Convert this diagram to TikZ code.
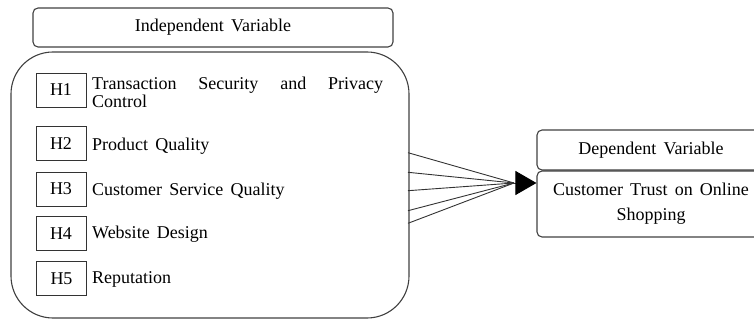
\documentclass[tikz,border=0pt]{standalone}
\usepackage{fontspec}
\setmainfont{Liberation Serif}
\usetikzlibrary{arrows.meta}
\newcommand\widewords{\spaceskip=0.4em plus 0.1em\relax}
\begin{document}
\begin{tikzpicture}[x=1pt,y=-1pt,
  frame/.style={draw=black!75, line width=1.1pt, rounded corners=5pt, inner sep=0pt},
  hbox/.style={draw=black!80, line width=0.9pt, minimum width=50pt, minimum height=34pt, inner sep=0pt},
  label/.style={anchor=west, inner sep=0pt, align=left},
  link/.style={draw=black!80, line width=0.9pt},
  txt/.style={font=\fontsize{18}{18}\selectfont\widewords}
]
\clip (0,0) rectangle (754,320);

% independent side
\node[frame, minimum width=360pt, minimum height=39pt, txt] (iv) at (213,27.5) {Independent Variable};
\node[frame, rounded corners=42pt, minimum width=398pt, minimum height=266pt] (ivbody) at (210,185) {};

\node[hbox, txt] (h1) at (61,90) {H1};
\node[hbox, txt] (h2) at (61,143.5) {H2};
\node[hbox, txt] (h3) at (61,189) {H3};
\node[hbox, txt] (h4) at (61,233.5) {H4};
\node[hbox, txt] (h5) at (61.5,278.5) {H5};

\node[label, txt, text width=291pt, align=justify] (t1) at (92,92)
  {\hyphenpenalty=10000 Transaction Security and Privacy\linebreak Control};
\node[label, txt] (t2) at (92,146) {Product Quality};
\node[label, txt] (t3) at (92,191) {Customer Service Quality};
\node[label, txt] (t4) at (92,234) {Website Design};
\node[label, txt] (t5) at (92,279) {Reputation};

% dependent side
\node[frame, minimum width=228pt, minimum height=40pt, txt] (dv) at (651,150) {Dependent Variable};
\node[frame, minimum width=228pt, minimum height=66pt, txt, align=center,
      font=\fontsize{18}{25}\selectfont\widewords] (ct) at (651,204)
  {Customer Trust on Online\\Shopping};

% converging links
\coordinate (s1) at (408,152.7);
\coordinate (s2) at (408,172.3);
\coordinate (s3) at (408,190.7);
\coordinate (s4) at (408,210.7);
\coordinate (s5) at (408,223.3);
\coordinate (hub) at (514,183);
\foreach \i in {1,...,5} \draw[link] (s\i) -- (hub);
\draw[link, -{Triangle[length=21pt,width=24pt,fill=black,color=black]}] (hub) -- (ct.west |- hub);
\end{tikzpicture}
\end{document}
